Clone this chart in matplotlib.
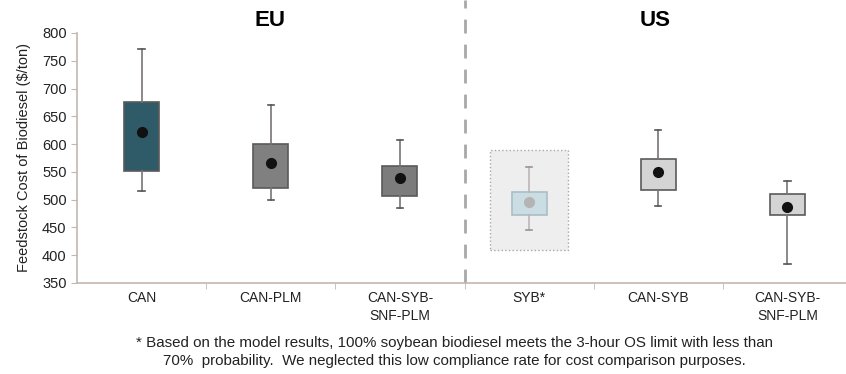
import numpy as np
import matplotlib
matplotlib.use("Agg")
import matplotlib.pyplot as plt
from matplotlib.patches import Rectangle

plt.rcParams['font.family'] = ['Liberation Sans', 'DejaVu Sans']

# box-plot summary values ($/ton)
labels = ["CAN", "CAN-PLM", "CAN-SYB-\nSNF-PLM", "SYB*", "CAN-SYB", "CAN-SYB-\nSNF-PLM"]
whisk_lo = [515, 499, 485, 445, 488, 385]
box_lo = [552, 521, 506, 473, 517, 473]
means = [622, 566, 539, 495, 550, 487]
box_hi = [676, 601, 561, 514, 574, 511]
whisk_hi = [771, 671, 608, 558, 625, 533]
# shaded region behind SYB*
syb_band = [409, 589]

face = ["#2f5a68", "#808080", "#7c7c7c", "#c9dde3", "#d4d4d4", "#d4d4d4"]
dot = ["#111111", "#111111", "#111111", "#b4b4b4", "#111111", "#111111"]
whisk_col = ["#7a7474", "#7a7474", "#7a7474", "#bdb5b5", "#7a7474", "#7a7474"]

fig = plt.figure(figsize=(8.46, 3.74), dpi=100)
ax = fig.add_axes([77 / 846, 1 - 283 / 374, 775 / 846, 250 / 374])

pos = np.arange(len(labels))

# shaded band for SYB*
ax.add_patch(Rectangle((3 - 0.305, syb_band[0]), 0.61, syb_band[1] - syb_band[0],
                       facecolor="#eeeeee", edgecolor="#a8a8a8", linestyle=":",
                       linewidth=1.0, zorder=1))

for i in range(len(labels)):
    st = [dict(whislo=whisk_lo[i], q1=box_lo[i], med=means[i], q3=box_hi[i],
               whishi=whisk_hi[i], mean=means[i], fliers=[])]
    edge = "#5a5a5a" if i != 3 else "#a9bfc6"
    ax.bxp(st, positions=[pos[i]], widths=0.27, patch_artist=True, showmeans=True,
           capwidths=0.05,
           boxprops=dict(facecolor=face[i], edgecolor=edge, linewidth=1.2),
           whiskerprops=dict(color=whisk_col[i], linewidth=1.2),
           capprops=dict(color="#555555" if i != 3 else "#9a9494", linewidth=1.2),
           medianprops=dict(linewidth=0),
           meanprops=dict(marker="o", markerfacecolor=dot[i], markeredgecolor=dot[i],
                          markersize=7),
           zorder=3)

ax.set_xlim(-0.5, 5.5)
ax.set_ylim(350, 800)
ax.set_yticks(np.arange(350, 801, 50))
ax.set_xticks(pos)
ax.set_xticklabels(labels, fontsize=10, color="#222222", linespacing=1.35)
ax.set_xticks(np.arange(0.5, 5, 1), minor=True)
ax.tick_params(axis="x", which="major", length=0, pad=6)
ax.tick_params(axis="x", which="minor", length=4, color="#c4b8ae")
ax.tick_params(axis="y", length=4, color="#c4b8ae", labelsize=10.5, labelcolor="#222222")
for s in ["top", "right"]:
    ax.spines[s].set_visible(False)
for s in ["left", "bottom"]:
    ax.spines[s].set_color("#c4b8ae")
    ax.spines[s].set_linewidth(1.2)
ax.set_ylabel("Feedstock Cost of Biodiesel ($/ton)", fontsize=10.5, color="#222222", labelpad=8)

# divider between regions
ax.plot([2.5, 2.5], [350, 860], linestyle=(0, (5, 4)), color="#a8a8a8",
        linewidth=2, clip_on=False, zorder=2)

fig.text(270 / 846, 1 - 20 / 374, "EU", fontsize=16, fontweight="bold", ha="center", va="center")
fig.text(655 / 846, 1 - 20 / 374, "US", fontsize=16, fontweight="bold", ha="center", va="center")

fig.text(454 / 846, 1 - 343 / 374,
         "* Based on the model results, 100% soybean biodiesel meets the 3-hour OS limit with less than",
         fontsize=10.9, ha="center", va="center", color="#222222")
fig.text(454 / 846, 1 - 361 / 374,
         "70%  probability.  We neglected this low compliance rate for cost comparison purposes.",
         fontsize=10.9, ha="center", va="center", color="#222222")

fig.savefig("out.png", dpi=100)
